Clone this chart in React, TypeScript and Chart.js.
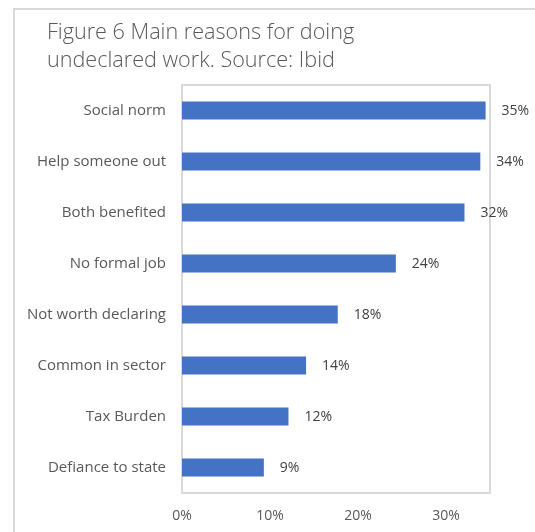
import React, { useEffect, useRef } from "react";
import { Chart, registerables } from "chart.js";

Chart.register(...registerables);

const categories = [
  "Social norm",
  "Help someone out",
  "Both benefited",
  "No formal job",
  "Not worth declaring",
  "Common in sector",
  "Tax Burden",
  "Defiance to state",
];
const values = [34.5, 33.9, 32.1, 24.3, 17.7, 14.1, 12.1, 9.3];
const xTicks = [0, 10, 20, 30];
const titleLines = ["Figure 6 Main reasons for doing", "undeclared work. Source: Ibid"];

const FONT = "'Open Sans', Lato, sans-serif";

const framePlugin = {
  id: "frame",
  beforeDraw(chart: any) {
    const ctx = chart.ctx;
    ctx.save();
    ctx.strokeStyle = "#d9d9d9";
    ctx.lineWidth = 2;
    ctx.beginPath();
    ctx.moveTo(14, chart.height + 5);
    ctx.lineTo(14, 9);
    ctx.lineTo(chart.width + 5, 9);
    ctx.stroke();
    const a = chart.chartArea;
    ctx.strokeRect(a.left, a.top, a.right - a.left, a.bottom - a.top);
    ctx.fillStyle = "#595959";
    ctx.font = `300 21.6px ${FONT}`;
    ctx.textAlign = "left";
    ctx.textBaseline = "alphabetic";
    titleLines.forEach((t, i) => ctx.fillText(t, 47, 39 + i * 28));
    ctx.restore();
  },
};

const labelPlugin = {
  id: "barLabels",
  afterDatasetsDraw(chart: any) {
    const ctx = chart.ctx;
    const meta = chart.getDatasetMeta(0);
    ctx.save();
    ctx.fillStyle = "#404040";
    ctx.font = `14px ${FONT}`;
    ctx.textAlign = "left";
    ctx.textBaseline = "middle";
    meta.data.forEach((bar: any, i: number) => {
      ctx.fillText(Math.round(values[i]) + "%", bar.x + 16, bar.y + 1);
    });
    ctx.restore();
  },
};

export default function App() {
  const ref = useRef<HTMLCanvasElement | null>(null);
  useEffect(() => {
    if (!ref.current) return;
    const chart = new Chart(ref.current, {
      type: "bar",
      data: {
        labels: categories,
        datasets: [
          {
            data: values,
            backgroundColor: "#4472C4",
            borderWidth: 0,
            barPercentage: 0.353,
            categoryPercentage: 1,
          },
        ],
      },
      options: {
        indexAxis: "y",
        responsive: false,
        animation: false,
        devicePixelRatio: 1,
        layout: { padding: { left: 16, right: 45, top: 85, bottom: 0 } },
        plugins: {
          legend: { display: false },
          tooltip: { enabled: false },
          title: { display: false },
        },
        scales: {
          x: {
            min: 0,
            max: 35,
            grid: { display: false, drawTicks: false },
            border: { display: false },
            afterBuildTicks: (axis: any) => {
              axis.ticks = xTicks.map((v) => ({ value: v }));
            },
            afterFit: (axis: any) => {
              axis.height = 39;
            },
            ticks: {
              padding: 15,
              color: "#595959",
              font: { family: FONT, size: 14 },
              callback: (v: any) => v + "%",
            },
          },
          y: {
            grid: { display: false, drawTicks: false },
            border: { display: false },
            afterFit: (axis: any) => {
              axis.width = 166;
            },
            ticks: {
              padding: 16,
              color: "#595959",
              font: { family: FONT, size: 15 },
            },
          },
        },
      },
      plugins: [framePlugin, labelPlugin],
    });
    return () => chart.destroy();
  }, []);
  return (
    <div style={{ position: "fixed", left: 0, top: 0, width: 535, height: 532, background: "#fff" }}>
      <canvas ref={ref} width={535} height={532} style={{ display: "block" }} />
    </div>
  );
}
